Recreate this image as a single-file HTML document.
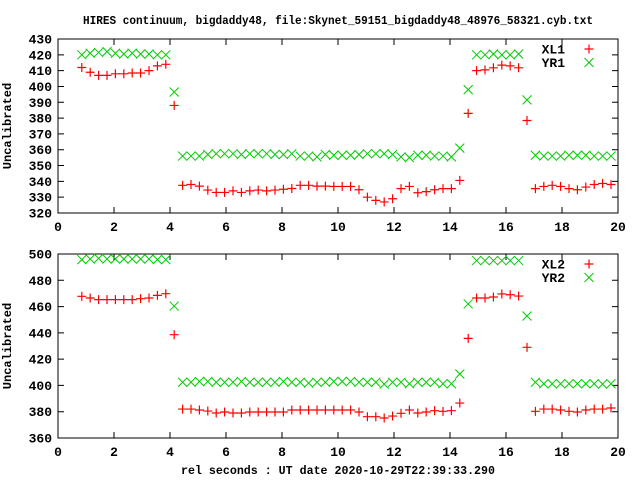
<!DOCTYPE html>
<html><head><meta charset="utf-8"><style>
body{margin:0;background:#fff}
svg{display:block}
text{font-family:"Liberation Mono",monospace;font-weight:bold;fill:#000}
</style></head><body>
<svg id="chart" width="640" height="480" viewBox="0 0 640 480">
<text x="338" y="24" font-size="12" text-anchor="middle" textLength="510" lengthAdjust="spacingAndGlyphs">HIRES continuum, bigdaddy48, file:Skynet_59151_bigdaddy48_48976_58321.cyb.txt</text>
<text x="338" y="474" font-size="12" text-anchor="middle" textLength="314" lengthAdjust="spacingAndGlyphs">rel seconds : UT date 2020-10-29T22:39:33.290</text>
<g id="p1"></g>
<g id="p2"></g>
</svg>
<script>
const times=[0.85,1.15,1.45,1.75,2.05,2.35,2.65,2.95,3.25,3.55,3.85,4.15,4.45,4.75,5.05,5.35,5.65,5.95,6.25,6.55,6.85,7.15,7.45,7.75,8.05,8.35,8.65,8.95,9.25,9.55,9.85,10.15,10.45,10.75,11.05,11.35,11.65,11.95,12.25,12.55,12.85,13.15,13.45,13.75,14.05,14.35,14.65,14.95,15.25,15.55,15.85,16.15,16.45,16.75,17.05,17.35,17.65,17.95,18.25,18.55,18.85,19.15,19.45,19.75];
const xl1=[412,409,407,407,408,408,408.5,408.5,410,413,414,388,337.5,338,337,334.5,333,333,334,333,334,334.5,334,334.5,335,335.5,337.5,337.5,337,337,336.8,336.8,336.8,334.7,330,328,327,329,335.4,336.8,332.8,333.5,334.7,335.4,335.4,340.6,383,410,410.5,411.8,413.5,413,411.8,378.5,335.4,336.8,337.5,336.8,335.4,334.7,336.4,338,338.7,338];
const yr1=[420,421,421.5,422,421,420.5,421,420.5,420.5,420,420,396.5,356,356,356,357,357.5,357.5,357.5,357,357.5,357.5,357.5,357,357,357.5,356,356,355.5,357,356.5,356.5,356.5,357,357.5,357.5,357.5,357,355.5,355,356.5,356.5,356,356,355.5,361,398,420,420,420.5,420,420,420.5,391.5,356.5,356,356,356,356.5,356.5,356.5,356,356,356];
const xl2=[467.8,466.5,465.3,465.3,465.3,465.3,465.3,466,466.5,468.5,469.8,438.6,382,382,381.3,380.5,379,379.8,379,379,379.8,379.8,379.8,379.8,379.8,381.3,381.3,381.3,381.3,381.3,381.3,381.3,381.3,379.8,376.2,376.2,375.2,376.7,378.8,381.3,379,379.8,380.8,380.3,380.8,386.6,435.8,466.5,466.5,467.3,469.6,469,468,429,380.3,382,382,381.3,380.3,379.8,381.3,382,382,382.8];
const yr2=[495.7,496.2,496.7,496.2,496.2,496.2,496.2,496.2,496.2,495.7,495.7,460.4,402.4,402.4,403,403,402.4,402.4,402.4,403,402.4,402.4,402.4,402.4,403,402.4,402.4,401.8,402.4,402.4,403,403,403,402.4,402.4,402.4,401,402.4,402.4,401.3,402.4,402.4,402.4,401.3,401.3,408.7,462,495,495,495,495,495,495,452.8,402.4,401.3,401.3,401.3,401.3,401.3,401.3,401.3,401,401.3];
const xTicks=[0,2,4,6,8,10,12,14,16,18,20];
const y1Ticks=[320,330,340,350,360,370,380,390,400,410,420,430];
const y2Ticks=[360,380,400,420,440,460,480,500];
const NS="http://www.w3.org/2000/svg";
function mk(p,tag,at){const e=document.createElementNS(NS,tag);for(const k in at)e.setAttribute(k,at[k]);p.appendChild(e);return e;}
function panel(g,top,bot,ymin,ymax,yticks,sA,sB,nA,nB,lx){
  const L=58,R=618;
  const sx=v=>L+(v-0)/(20-0)*(R-L);
  const sy=v=>bot-(v-ymin)/(ymax-ymin)*(bot-top);
  const yt=mk(g,'text',{x:11,y:(top+bot)/2,'font-size':12,'text-anchor':'middle',transform:`rotate(-90 11 ${(top+bot)/2})`});
  
  
  yt.textContent='Uncalibrated';
  yticks.forEach(t=>{const y=sy(t);
    const l=mk(g,'path',{d:`M${L} ${y}h6M${R} ${y}h-6`,stroke:'#000','stroke-width':1});
    
    
    const tx=mk(g,'text',{x:52,y:y+4.5,'font-size':13,'text-anchor':'end'});
    
    
    tx.textContent=t;});
  xTicks.forEach(t=>{const x=sx(t);
    const l=mk(g,'path',{d:`M${x} ${bot}v-6M${x} ${top}v6`,stroke:'#000','stroke-width':1});
    
    
    const tx=mk(g,'text',{x:x,y:bot+18,'font-size':13,'text-anchor':'middle'});
    
    
    tx.textContent=t;});
  const fr=mk(g,'rect',{x:L,y:top,width:R-L,height:bot-top,fill:'none',stroke:'#000','stroke-width':1});
  
  
  const plus=(x,y)=>`M${x-4.5} ${y}h9M${x} ${y-4.5}v9`;
  const cross=(x,y)=>`M${x-4.5} ${y-4.5}l9 9M${x-4.5} ${y+4.5}l9 -9`;
  times.forEach((t,i)=>{
    const a=mk(g,'path',{d:plus(sx(t),sy(sA[i])),stroke:'#f00','stroke-width':1.2});
    
    
    const b=mk(g,'path',{d:cross(sx(t),sy(sB[i])),stroke:'#0c0','stroke-width':1});
    
    
  });
  [[nA,plus,'#f00',1.2],[nB,cross,'#0c0',1]].forEach((e,k)=>{
    const y=top+10+k*13.5;
    const tx=mk(g,'text',{x:565,y:y+4.5,'font-size':13,'text-anchor':'end'});
    
    
    tx.textContent=e[0];
    const m=mk(g,'path',{d:e[1](589,y),stroke:e[2],'stroke-width':e[3]});
    
    
  });
}
panel(document.getElementById('p1'),39,213,320,430,y1Ticks,xl1,yr1,'XL1','YR1');
panel(document.getElementById('p2'),254,438,360,500,y2Ticks,xl2,yr2,'XL2','YR2');
</script>
</body></html>
